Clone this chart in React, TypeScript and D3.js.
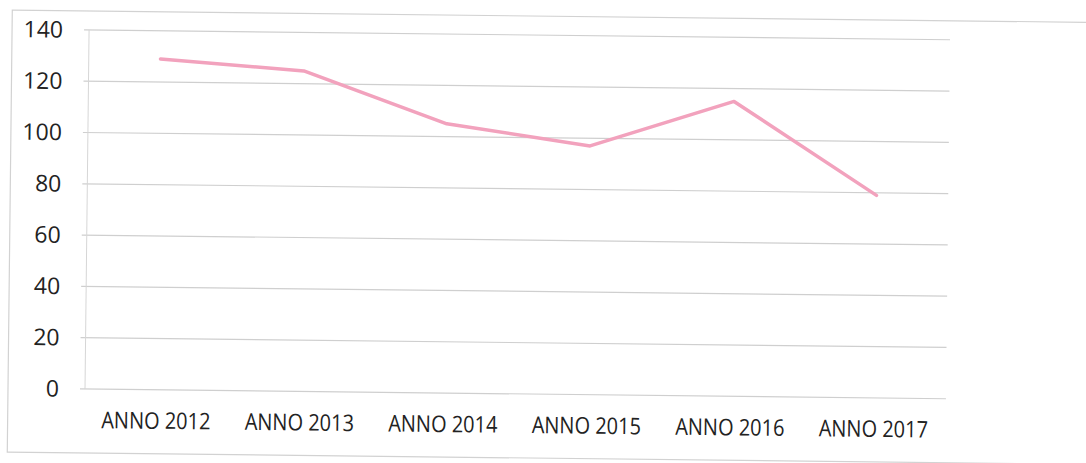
import React from "react";
import * as d3 from "d3";

const categories = ["ANNO 2012", "ANNO 2013", "ANNO 2014", "ANNO 2015", "ANNO 2016", "ANNO 2017"];
const values = [129, 125, 105, 97, 115, 79];
const yTicks = [0, 20, 40, 60, 80, 100, 120, 140];

const W = 1086;
const H = 463;
const PIVOT_X = 88;
const PIVOT_Y = 389;
const TILT = 0.65;

export default function App() {
  const x = d3.scaleBand<string>().domain(categories).range([85, 946]);
  const y = d3.scaleLinear().domain([0, 140]).range([389, 30]);
  const line = d3
    .line<number>()
    .x((_, i) => (x(categories[i]) as number) + x.bandwidth() / 2)
    .y((d) => y(d));

  return (
    <svg
      width={W}
      height={H}
      style={{ position: "absolute", left: 0, top: 0, display: "block", background: "#fff" }}
    >
      <rect x={0} y={0} width={W} height={H} fill="#fff" />
      <g transform={`rotate(${TILT} ${PIVOT_X} ${PIVOT_Y})`}>
        <rect x={8} y={11} width={1110} height={442} fill="none" stroke="#d2d2d2" strokeWidth={1.2} />
        {yTicks.map((t) => (
          <line key={"g" + t} x1={80} x2={946} y1={y(t)} y2={y(t)} stroke="#cfcfcf" strokeWidth={1.2} />
        ))}
        <line x1={85} x2={85} y1={y(140)} y2={y(0)} stroke="#d6d6d6" strokeWidth={1} />
        {yTicks.map((t) => (
          <text
            key={"t" + t}
            x={59}
            y={y(t) + 8}
            textAnchor="end"
            fontFamily="'Open Sans', sans-serif"
            fontSize={23}
            fill="#222"
          >
            {t}
          </text>
        ))}
        {categories.map((c) => (
          <text
            key={c}
            transform={`translate(${(x(c) as number) + x.bandwidth() / 2 - 0.5},428) scale(1,1.15)`}
            textAnchor="middle"
            fontFamily="'Open Sans', sans-serif"
            fontSize={20}
            fill="#222"
          >
            {c}
          </text>
        ))}
        <path
          d={line(values) || ""}
          fill="none"
          stroke="#f2a2bd"
          strokeWidth={3.5}
          strokeLinejoin="round"
          strokeLinecap="round"
        />
      </g>
    </svg>
  );
}
